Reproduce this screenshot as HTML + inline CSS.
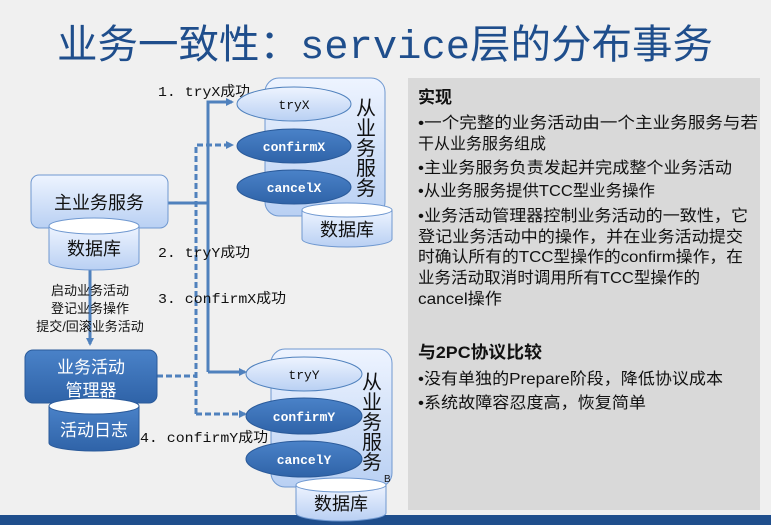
<!DOCTYPE html>
<html><head><meta charset="utf-8"><style>
html,body{margin:0;padding:0;background:#f0f0f0;}
svg{display:block;font-family:"Liberation Sans","Noto Sans CJK SC",sans-serif;}
.m{font-family:"Liberation Mono","Noto Sans CJK SC",monospace;}
</style></head><body>
<svg width="771" height="525" viewBox="0 0 771 525" xmlns="http://www.w3.org/2000/svg">
<defs>
<linearGradient id="lb" x1="0" y1="0" x2="0" y2="1"><stop offset="0" stop-color="#eef4ff"/><stop offset="1" stop-color="#b9d0f3"/></linearGradient>
<linearGradient id="db" x1="0" y1="0" x2="0" y2="1"><stop offset="0" stop-color="#4a82c8"/><stop offset="1" stop-color="#2f63a8"/></linearGradient>
<marker id="ah" markerWidth="8" markerHeight="8" refX="6" refY="4" orient="auto" markerUnits="userSpaceOnUse"><path d="M0,0 L8,4 L0,8 z" fill="#4f81bd"/></marker>
</defs>
<rect width="771" height="525" fill="#f0f0f0"/>
<text x="385" y="58" text-anchor="middle" font-size="40" fill="#1f4e8c" class="m" textLength="656" lengthAdjust="spacingAndGlyphs">业务一致性：service层的分布事务</text>
<rect x="0" y="515" width="771" height="10" fill="#1f4e8c"/>

<rect x="408" y="78" width="352" height="432" fill="#d9d9d9"/>
<g font-size="16" fill="#111">
<text x="418" y="103" font-weight="bold" font-size="17">实现</text>
<text x="418" y="128" textLength="340" lengthAdjust="spacingAndGlyphs">•一个完整的业务活动由一个主业务服务与若</text>
<text x="418" y="149">干从业务服务组成</text>
<text x="418" y="173" textLength="314" lengthAdjust="spacingAndGlyphs">•主业务服务负责发起并完成整个业务活动</text>
<text x="418" y="196" textLength="237" lengthAdjust="spacingAndGlyphs">•从业务服务提供TCC型业务操作</text>
<text x="418" y="221" textLength="330" lengthAdjust="spacingAndGlyphs">•业务活动管理器控制业务活动的一致性，它</text>
<text x="418" y="242" textLength="325" lengthAdjust="spacingAndGlyphs">登记业务活动中的操作，并在业务活动提交</text>
<text x="418" y="262" textLength="325" lengthAdjust="spacingAndGlyphs">时确认所有的TCC型操作的confirm操作，在</text>
<text x="418" y="283" textLength="282" lengthAdjust="spacingAndGlyphs">业务活动取消时调用所有TCC型操作的</text>
<text x="418" y="304" textLength="84" lengthAdjust="spacingAndGlyphs">cancel操作</text>
<text x="418" y="358" font-weight="bold" font-size="17" textLength="124" lengthAdjust="spacingAndGlyphs">与2PC协议比较</text>
<text x="418" y="384" textLength="305" lengthAdjust="spacingAndGlyphs">•没有单独的Prepare阶段，降低协议成本</text>
<text x="418" y="408" textLength="228" lengthAdjust="spacingAndGlyphs">•系统故障容忍度高，恢复简单</text>
</g>

<g stroke="#4f81bd" stroke-width="3" fill="none">
<path d="M168,203 H208"/>
<path d="M208,372 V102 H232" marker-end="url(#ah)"/>
<path d="M208,372 H245" marker-end="url(#ah)"/>
<path d="M90,270 V344" marker-end="url(#ah)"/>
</g>
<g stroke="#4f81bd" stroke-width="3" fill="none" stroke-dasharray="6,3">
<path d="M196,414 V145 H232" marker-end="url(#ah)"/>
<path d="M196,414 H245" marker-end="url(#ah)"/>
<path d="M157,376 H196"/>
</g>

<rect x="31" y="175" width="137" height="53" rx="8" fill="url(#lb)" stroke="#6f98d0"/>
<text x="99" y="209" text-anchor="middle" font-size="18" fill="#111">主业务服务</text>
<path d="M49,226 V262 A45,8 0 0 0 139,262 V226" fill="url(#lb)" stroke="#6f98d0"/>
<ellipse cx="94" cy="226" rx="45" ry="8" fill="#fff" stroke="#6f98d0"/>
<text x="94" y="255" text-anchor="middle" font-size="18" fill="#111">数据库</text>
<g font-size="13" fill="#111" text-anchor="middle">
<text x="90" y="295">启动业务活动</text>
<text x="90" y="313">登记业务操作</text>
<text x="90" y="331">提交/回滚业务活动</text>
</g>

<rect x="25" y="350" width="132" height="53" rx="8" fill="url(#db)" stroke="#2a5a9a"/>
<text x="91" y="373" text-anchor="middle" font-size="17" fill="#fff">业务活动</text>
<text x="91" y="396" text-anchor="middle" font-size="17" fill="#fff">管理器</text>
<path d="M49,406 V443 A45,8 0 0 0 139,443 V406" fill="url(#db)" stroke="#2a5a9a"/>
<ellipse cx="94" cy="406" rx="45" ry="8" fill="#fff" stroke="#2a5a9a"/>
<text x="94" y="436" text-anchor="middle" font-size="17" fill="#fff">活动日志</text>

<g class="m" font-size="14" fill="#111">
<text x="158" y="96" textLength="92" lengthAdjust="spacingAndGlyphs">1. tryX成功</text>
<text x="158" y="257" textLength="92" lengthAdjust="spacingAndGlyphs">2. tryY成功</text>
<text x="158" y="303" textLength="128" lengthAdjust="spacingAndGlyphs">3. confirmX成功</text>
<text x="140" y="442" textLength="128" lengthAdjust="spacingAndGlyphs">4. confirmY成功</text>
</g>

<rect x="265" y="78" width="120" height="138" rx="14" fill="url(#lb)" stroke="#6f98d0"/>
<ellipse cx="294" cy="104" rx="57" ry="17" fill="url(#lb)" stroke="#4f81bd"/>
<text x="294" y="109" text-anchor="middle" class="m" font-size="13" fill="#111">tryX</text>
<ellipse cx="294" cy="146" rx="57" ry="17" fill="url(#db)" stroke="#2a5a9a"/>
<text x="294" y="151" text-anchor="middle" class="m" font-size="13" fill="#fff" font-weight="bold">confirmX</text>
<ellipse cx="294" cy="187" rx="57" ry="17" fill="url(#db)" stroke="#2a5a9a"/>
<text x="294" y="192" text-anchor="middle" class="m" font-size="13" fill="#fff" font-weight="bold">cancelX</text>
<g font-size="20" fill="#111" text-anchor="middle">
<text x="366" y="115">从</text><text x="366" y="135">业</text><text x="366" y="155">务</text><text x="366" y="175">服</text><text x="366" y="195">务</text>
</g>
<path d="M302,210 V239 A45,8 0 0 0 392,239 V210" fill="url(#lb)" stroke="#6f98d0"/>
<ellipse cx="347" cy="210" rx="45" ry="7" fill="#fff" stroke="#6f98d0"/>
<text x="347" y="236" text-anchor="middle" font-size="18" fill="#111">数据库</text>

<rect x="271" y="349" width="121" height="138" rx="14" fill="url(#lb)" stroke="#6f98d0"/>
<ellipse cx="304" cy="374" rx="58" ry="17" fill="url(#lb)" stroke="#4f81bd"/>
<text x="304" y="379" text-anchor="middle" class="m" font-size="13" fill="#111">tryY</text>
<ellipse cx="304" cy="416" rx="58" ry="18" fill="url(#db)" stroke="#2a5a9a"/>
<text x="304" y="421" text-anchor="middle" class="m" font-size="13" fill="#fff" font-weight="bold">confirmY</text>
<ellipse cx="304" cy="459" rx="58" ry="18" fill="url(#db)" stroke="#2a5a9a"/>
<text x="304" y="464" text-anchor="middle" class="m" font-size="13" fill="#fff" font-weight="bold">cancelY</text>
<g font-size="20" fill="#111" text-anchor="middle">
<text x="372" y="389">从</text><text x="372" y="409">业</text><text x="372" y="429">务</text><text x="372" y="449">服</text><text x="372" y="469">务</text>
</g>
<text x="384" y="482" font-size="10" fill="#111">B</text>
<path d="M296,485 V513 A45,8 0 0 0 386,513 V485" fill="url(#lb)" stroke="#6f98d0"/>
<ellipse cx="341" cy="485" rx="45" ry="7" fill="#fff" stroke="#6f98d0"/>
<text x="341" y="510" text-anchor="middle" font-size="18" fill="#111">数据库</text>
</svg>
</body></html>
